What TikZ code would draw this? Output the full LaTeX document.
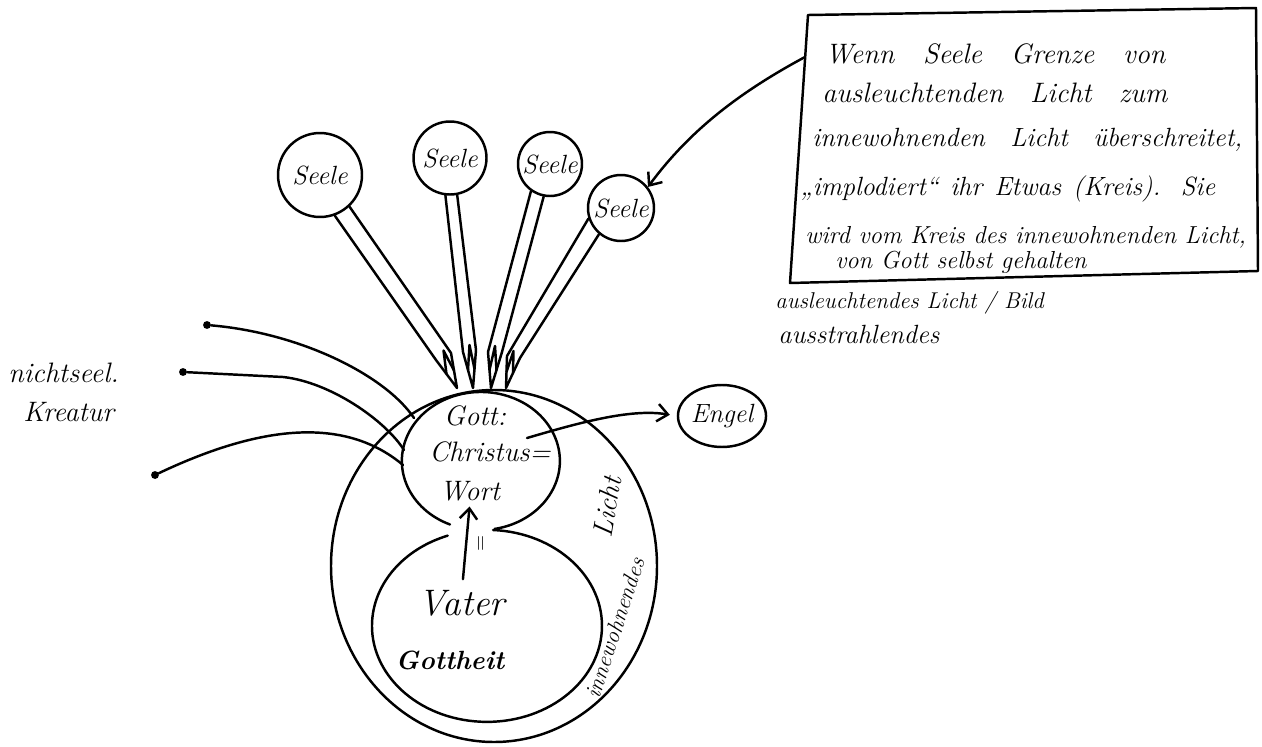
\documentclass[tikz,border=0pt]{standalone}
\usepackage{fontspec}
\usepackage{tikz}
\usetikzlibrary{arrows.meta,shapes.geometric,calc}

\newcommand{\zeile}[2]{\makebox[#1][s]{#2}}

\tikzset{
  hand/.style={line width=1.4pt, line cap=round, line join=round},
  soul/.style={circle, draw, hand, inner sep=0pt, font=\fontsize{15}{17}\selectfont\itshape},
  dot/.style={circle, fill, inner sep=0pt, minimum size=4.5pt},
  txt/.style={inner sep=0pt, font=\fontsize{16}{18}\selectfont\itshape},
  note/.style={anchor=base west, inner sep=0pt, font=\fontsize{14}{16}\selectfont\itshape},
  barb/.style={-{Straight Barb[length=6pt,width=10pt]}}
}

\begin{document}
\begin{tikzpicture}[x=0.02cm, y=-0.02cm]
  \useasboundingbox (0,0) rectangle (1262,747);

  % Seelen
  \node[soul, minimum size=1.68cm] (seele1) at (320,175) {Seele};
  \node[soul, minimum size=1.46cm] (seele2) at (450,158) {Seele};
  \node[soul, minimum size=1.28cm] (seele3) at (550,164) {Seele};
  \node[soul, minimum size=1.32cm] (seele4) at (621,208) {Seele};

  % Punkte oben am Gott-Kreis
  \coordinate (g1) at (457,388);
  \coordinate (g2) at (473,388);
  \coordinate (g3) at (491,388);
  \coordinate (g4) at (506,388);

  % Stiele
  \draw[hand] (seele1.-70) -- (436,360) -- (g1) -- (451,353) -- (seele1.-47);
  \draw[hand] ($(436,360)!.5!(g1)$) -- ($(436,360)!.5!(451,353)+(0,-6)$) -- ($(451,353)!.5!(g1)$);
  \draw[hand] (seele2.-97) -- (463,352) -- (g2) -- (476,350) -- (seele2.-79);
  \draw[hand] ($(463,352)!.5!(g2)$) -- ($(463,352)!.5!(476,350)+(0,-6)$) -- ($(476,350)!.5!(g2)$);
  \draw[hand] (seele3.-125) -- (488,352) -- (g3) -- (502,352) -- (seele3.-101);
  \draw[hand] ($(488,352)!.5!(g3)$) -- ($(488,352)!.5!(502,352)+(0,-6)$) -- ($(502,352)!.5!(g3)$);
  \draw[hand] (seele4.-162) -- (507,356) -- (g4) -- (520,358) -- (seele4.-130);
  \draw[hand] ($(507,356)!.5!(g4)$) -- ($(507,356)!.5!(520,358)+(0,-6)$) -- ($(520,358)!.5!(g4)$);

  % Gott und Vater
  \draw[hand] (450,524.5) arc[start angle=113, end angle=440, x radius=79, y radius=69];
  \draw[hand] (493,530) arc[start angle=-87, end angle=250, x radius=115, y radius=96];
  \draw[hand] (494,566) ellipse[x radius=163, y radius=176];

  \node[txt] (gottwort) at (475,416) {Gott:};
  \node[txt] (christus) at (490,452) {Christus=};
  \node[txt] (wort) at (470,491) {Wort};
  \node[txt, font=\fontsize{21}{24}\selectfont\itshape] (vater) at (462,603) {Vater};
  \node[txt, font=\fontsize{15}{18}\selectfont\bfseries\itshape] (gottheit) at (450,660) {Gottheit};
  \node[txt, rotate=90, font=\fontsize{12}{14}\selectfont] (gleich) at (482,543) {=};
  \draw[hand, barb, shorten <=6pt, shorten >=3pt] (vater.north) -- (wort.south);

  \node[txt, rotate=72, font=\fontsize{13}{15}\selectfont\itshape] (innen) at (615,628) {innewohnendes};
  \node[txt, rotate=80] (licht) at (607,507) {Licht};

  % Engel
  \node[ellipse, draw, hand, inner sep=0pt, minimum width=1.56cm, minimum height=1.24cm,
        font=\fontsize{15}{17}\selectfont\itshape] (engel) at (722,416) {Engel};
  \coordinate (gottpt) at (527,438);
  \draw[hand, barb, shorten >=4pt] (gottpt) .. controls (575,424) and (630,408) .. (engel.west);

  % nichtseelische Kreatur
  \node[dot] (k1) at (207,325) {};
  \node[dot] (k2) at (183,372) {};
  \node[dot] (k3) at (155,475) {};
  \coordinate (gl1) at (414,418);
  \coordinate (gl2) at (404,450);
  \coordinate (gl3) at (403,465);
  \draw[hand] (k1) .. controls (300,333) and (385,375) .. (gl1);
  \draw[hand] (k2) -- (283,377) .. controls (330,382) and (385,420) .. (gl2);
  \draw[hand] (k3) .. controls (250,430) and (340,412) .. (gl3);
  \node[txt, anchor=west] (nichtseel) at (8,373) {nichtseel.};
  \node[txt, anchor=west] (kreatur) at (23,412) {Kreatur};

  % Kasten mit Notiz
  \draw[hand] (808,15) -- (1256,8) -- (1258,271) -- (790,283) -- cycle;
  \coordinate (boxpt) at (805,57);
  \draw[hand, barb] (boxpt) .. controls (740,92) and (690,130) .. (seele4.38);
  \node[note, font=\fontsize{16}{18}\selectfont\itshape] (zeile1) at (825,63) {\zeile{6.8cm}{Wenn Seele Grenze von}};
  \node[note, font=\fontsize{16}{18}\selectfont\itshape] (zeile2) at (822,102) {\zeile{6.9cm}{ausleuchtenden Licht zum}};
  \node[note, font=\fontsize{15}{17}\selectfont\itshape] (zeile3) at (812,146) {\zeile{8.6cm}{innewohnenden Licht überschreitet,}};
  \node[note, font=\fontsize{15}{17}\selectfont\itshape] (zeile4) at (800,195) {\zeile{8.3cm}{„implodiert“ ihr Etwas (Kreis). Sie}};
  \node[note] (zeile5) at (805,243) {wird vom Kreis des innewohnenden Licht,};
  \node[note] (zeile6) at (835,268) {von Gott selbst gehalten};

  \node[note, font=\fontsize{13}{15}\selectfont\itshape] (ausleucht) at (775,308) {ausleuchtendes Licht / Bild};
  \node[note, font=\fontsize{15}{17}\selectfont\itshape] (ausstrahl) at (778,343) {ausstrahlendes};
\end{tikzpicture}
\end{document}
